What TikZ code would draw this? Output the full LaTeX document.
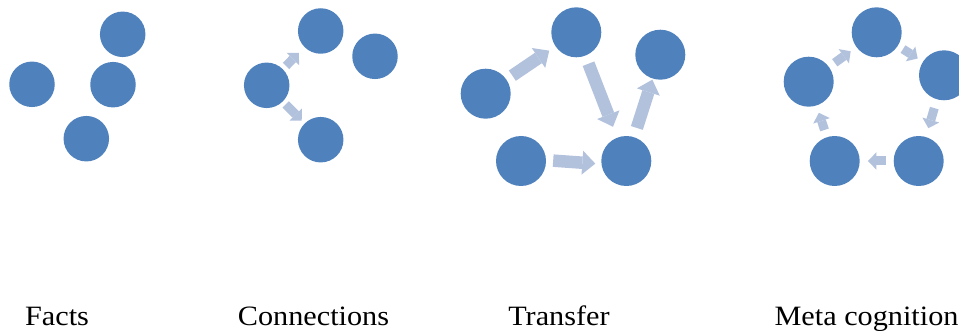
\documentclass[tikz,border=0pt]{standalone}
\usepackage{fontspec}
\setmainfont{Liberation Serif}
\usetikzlibrary{arrows.meta}
\definecolor{dotc}{RGB}{79,129,189}
\definecolor{arrowc}{RGB}{178,194,221}
\tikzset{
  dot/.style={circle, fill=dotc, draw=none, inner sep=0pt},
  smalldot/.style={dot, minimum size=45.5pt},
  bigdot/.style={dot, minimum size=50pt},
  bigarrow/.style={draw=arrowc, line width=12.5pt, -{Triangle[width=24pt,length=13pt,line width=0pt]}},
  smallarrow/.style={draw=arrowc, line width=9pt, -{Triangle[width=17.5pt,length=8.5pt,line width=0pt]}},
  label/.style={anchor=base, inner sep=0pt, font=\fontsize{28}{34}\selectfont}
}
\begin{document}
\begin{tikzpicture}[x=1pt,y=-1pt]
\clip (0,0) rectangle (959,331);
% Facts
\node[smalldot] (f1) at (122.7,34.3) {};
\node[smalldot] (f2) at (32,84.3) {};
\node[smalldot] (f3) at (113,84.7) {};
\node[smalldot] (f4) at (86.3,138.7) {};
% Connections
\node[smalldot] (cT) at (320.7,31) {};
\node[smalldot] (cR) at (375,56.3) {};
\node[smalldot] (cL) at (266.7,85.3) {};
\node[smalldot] (cB) at (320.7,139.7) {};
\draw[smallarrow, shorten <=4.5pt, shorten >=8pt] (cL) -- (cT);
\draw[smallarrow, shorten <=4pt, shorten >=4pt] (cL) -- (cB);
% Transfer
\node[bigdot] (tT) at (576.3,32.3) {};
\node[bigdot] (tR) at (660.3,54.7) {};
\node[bigdot] (tL) at (485.7,93.7) {};
\node[bigdot] (tBL) at (521,161) {};
\node[bigdot] (tBR) at (626.3,161) {};
\draw[bigarrow, shorten <=7pt, shorten >=7.5pt] (tL) -- (tT);
\draw[bigarrow, shorten <=8.5pt, shorten >=11.5pt] (tT) -- (tBR);
\draw[bigarrow, shorten <=9.5pt, shorten >=1pt] (tBR) -- (tR);
\draw[bigarrow, shorten <=7pt, shorten >=6pt] (tBL.2) -- (tBR.187);
% Meta cognition
\node[bigdot] (mT) at (876.7,32.3) {};
\node[bigdot] (mR) at (944,75.3) {};
\node[bigdot] (mL) at (808.7,81.7) {};
\node[bigdot] (mBL) at (834.7,161) {};
\node[bigdot] (mBR) at (918.7,161) {};
\draw[smallarrow, shorten <=6pt, shorten >=6pt] (mT) -- (mR);
\draw[smallarrow, shorten <=9pt, shorten >=9pt] (mR) -- (mBR);
\draw[smallarrow, shorten <=8pt, shorten >=8pt] (mBR) -- (mBL);
\draw[smallarrow, shorten <=7.5pt, shorten >=7.5pt] (mBL) -- (mL);
\draw[smallarrow, shorten <=7pt, shorten >=7pt] (mL) -- (mT);
% Labels
\node[label] (lf) at (57,326) {\scalebox{1.08}[1]{Facts}};
\node[label] (lc) at (313.5,326) {\scalebox{1.08}[1]{Connections}};
\node[label] (lt) at (559,326) {\scalebox{1.08}[1]{Transfer}};
\node[label] (lm) at (866.5,326) {\scalebox{1.08}[1]{Meta cognition}};
\end{tikzpicture}
\end{document}
